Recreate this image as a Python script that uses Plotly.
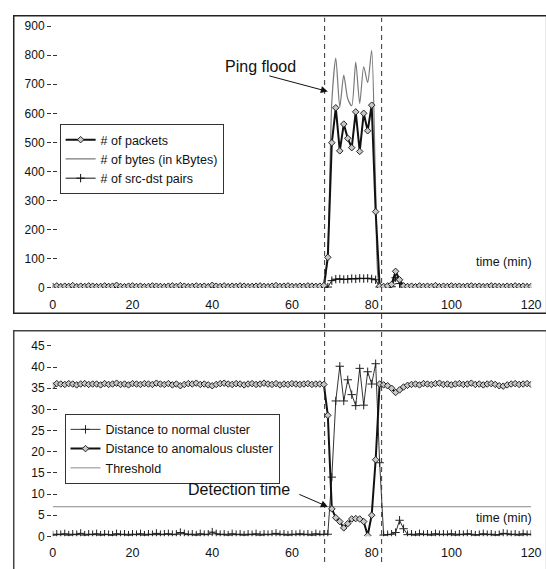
import plotly.graph_objects as go

# ---------------- data ----------------
time_min = list(range(0, 121))

packets = [5,7,4,6,5,8,4,6,5,7,
           6,4,5,7,5,6,9,5,4,6,
           7,5,6,4,5,7,6,5,4,6,
           7,5,8,6,4,5,7,5,6,4,
           9,6,5,7,4,6,5,7,6,4,
           5,6,7,5,4,6,8,5,6,7,
           5,4,6,5,7,6,5,6,8,
           105,499,619,471,563,514,482,605,469,600,540,
           628,262,6,5,7,12,57,28,7,5,
           6,4,7,5,6,5,8,4,6,5,
           7,5,6,4,6,7,5,6,4,5,
           7,6,5,4,6,5,7,5,6,4,5]

kbytes = [3,4,2,3,5,3,2,4,3,3,
          4,2,3,4,3,5,6,3,2,3,
          4,3,3,2,3,4,3,3,2,4,
          5,3,5,4,2,3,4,3,3,2,
          6,4,3,4,2,3,3,4,3,2,
          3,4,4,3,2,3,5,3,4,4,
          3,2,4,3,4,3,3,4,5,
          140,640,790,622,731,650,626,776,634,760,706,
          816,340,4,3,4,8,48,25,5,3,
          4,3,4,3,4,3,5,2,4,3,
          4,3,4,2,3,4,3,4,2,3,
          4,3,3,2,4,3,4,3,4,2,3]

pairs = [2,1,2,1,2,2,1,2,1,2,
         1,2,2,1,2,1,3,2,1,2,
         2,1,2,1,2,2,1,2,1,2,
         2,1,3,2,1,2,2,1,2,1,
         3,2,1,2,1,2,2,1,2,1,
         2,1,2,2,1,2,3,1,2,2,
         1,2,1,2,2,1,2,2,3,
         3,25,30,31,29,30,32,31,33,32,33,
         31,28,3,2,2,4,35,15,3,2,
         1,2,2,1,2,1,2,2,1,2,
         2,1,2,1,2,2,1,2,1,2,
         1,2,2,1,2,1,2,2,1,2,1]

dist_normal = [0.3,0.5,0.4,0.6,0.3,0.5,0.4,0.7,0.3,0.5,
               0.4,0.6,0.3,0.5,0.4,0.3,0.6,0.4,0.5,0.3,
               0.5,0.4,0.6,0.3,0.5,0.4,0.7,0.4,0.5,0.6,
               0.4,0.5,0.9,0.6,0.4,0.5,0.3,0.6,0.4,0.5,
               1.0,0.6,0.4,0.5,0.3,0.6,0.4,0.5,0.3,0.5,
               0.4,0.6,0.3,0.5,0.4,0.5,0.7,0.4,0.5,0.3,
               0.5,0.4,0.6,0.4,0.5,0.3,0.6,0.4,0.5,
               0.5,14.0,32.0,40.2,32.0,37.0,33.5,30.9,39.7,31.0,38.9,
               36.0,40.8,17.4,0.3,0.4,0.5,0.9,3.8,1.8,0.4,
               0.5,0.3,0.6,0.4,0.5,0.3,0.6,0.4,0.5,0.4,
               0.6,0.3,0.5,0.4,0.6,0.5,0.3,0.4,0.6,0.4,
               0.5,0.3,0.4,0.7,0.6,0.4,0.5,0.3,0.6,0.4,0.5]

dist_anomalous = [35.6,36.1,36.0,35.9,36.1,36.0,35.8,36.0,36.1,35.9,
                  36.0,36.0,35.8,36.1,35.9,36.0,36.2,35.9,36.0,35.8,
                  36.1,36.0,35.9,36.1,36.0,35.9,36.2,36.0,35.9,36.1,
                  35.8,36.0,35.6,35.9,36.1,36.0,36.2,35.9,36.0,35.8,
                  35.6,35.9,36.1,36.2,36.0,35.9,36.1,36.0,35.8,36.0,
                  36.1,35.9,36.0,36.2,36.0,35.9,36.1,35.8,36.0,35.9,
                  36.1,36.0,35.9,36.0,36.1,35.9,36.0,36.0,35.9,
                  28.6,6.5,4.4,3.5,2.0,3.0,4.1,4.2,4.1,3.5,0.2,
                  5.0,18.1,36.0,35.8,35.6,35.0,34.0,34.6,35.3,35.7,
                  35.9,36.0,35.8,36.1,36.0,35.9,36.1,36.2,35.9,36.0,
                  35.8,36.0,36.1,35.9,36.0,36.2,35.9,36.0,35.8,36.0,
                  36.1,35.9,35.6,35.5,35.8,36.0,36.1,35.9,36.0,36.1,35.9]

threshold = 7
attack_bounds = [68.2, 82.5]

x_ticks = [0, 20, 40, 60, 80, 100, 120]
top_ticks = [0, 100, 200, 300, 400, 500, 600, 700, 800, 900]
bottom_ticks = [0, 5, 10, 15, 20, 25, 30, 35, 40, 45]

for s in (packets, kbytes, pairs, dist_normal, dist_anomalous):
    assert len(s) == len(time_min), len(s)

# ---------------- figure ----------------
W, H = 546, 569
FONT = "Liberation Sans, Arial, sans-serif"
TICK = 12
LEG = 12.5

fig = go.Figure()

fig.add_trace(go.Scatter(
    x=time_min, y=packets, name="# of packets", mode="lines+markers",
    line=dict(color="#111111", width=2),
    marker=dict(symbol="diamond", size=5, color="#c8c8c8",
                line=dict(color="#222222", width=1)),
    xaxis="x", yaxis="y", legend="legend", cliponaxis=False, zorder=3))
fig.add_trace(go.Scatter(
    x=time_min, y=kbytes, name="# of bytes (in kBytes)", mode="lines",
    line=dict(color="#7a7a7a", width=1.2, shape="spline", smoothing=0.7),
    xaxis="x", yaxis="y", legend="legend", cliponaxis=False, zorder=1))
fig.add_trace(go.Scatter(
    x=time_min, y=pairs, name="# of src-dst pairs", mode="lines+markers",
    line=dict(color="#111111", width=1),
    marker=dict(symbol="cross-thin", size=6, line=dict(color="#111111", width=1)),
    xaxis="x", yaxis="y", legend="legend", cliponaxis=False, zorder=2))

fig.add_trace(go.Scatter(
    x=time_min, y=dist_normal, name="Distance to normal cluster", mode="lines+markers",
    line=dict(color="#333333", width=1),
    marker=dict(symbol="cross-thin", size=6, line=dict(color="#222222", width=1)),
    xaxis="x2", yaxis="y2", legend="legend2", cliponaxis=False, zorder=2))
fig.add_trace(go.Scatter(
    x=time_min, y=dist_anomalous, name="Distance to anomalous cluster", mode="lines+markers",
    line=dict(color="#111111", width=2),
    marker=dict(symbol="diamond", size=5, color="#c8c8c8",
                line=dict(color="#222222", width=1)),
    xaxis="x2", yaxis="y2", legend="legend2", cliponaxis=False, zorder=3))
fig.add_trace(go.Scatter(
    x=[time_min[0], time_min[-1]], y=[threshold, threshold], name="Threshold",
    mode="lines", line=dict(color="#8a8a8a", width=1),
    xaxis="x2", yaxis="y2", legend="legend2", zorder=1))

xdom = [51 / W, 541 / W]
top_dom = [1 - 288 / H, 1 - 19.5 / H]
bot_dom = [1 - 542.7 / H, 1 - 347.5 / H]

xcommon = dict(domain=xdom, range=[0, 120], tickvals=x_ticks, showgrid=False,
               zeroline=False, showline=True, linecolor="#9a9a9a", linewidth=1,
               ticks="outside", ticklen=5, tickcolor="rgba(0,0,0,0)",
               ticklabeloverflow="allow",
               tickfont=dict(family=FONT, size=12.5, color="#111"))
ycommon = dict(showgrid=False, zeroline=False, showline=True, linecolor="#333",
               linewidth=1.5, ticks="outside", ticklen=4, tickcolor="#333",
               tickwidth=1, tickfont=dict(family=FONT, size=TICK, color="#111"))

fig.update_layout(
    width=W, height=H, margin=dict(l=0, r=0, t=0, b=0),
    paper_bgcolor="white", plot_bgcolor="white",
    font=dict(family=FONT, size=11, color="#111"),
    xaxis=dict(anchor="y", **xcommon),
    yaxis=dict(anchor="x", domain=top_dom, range=[0, 900], tickvals=top_ticks, **ycommon),
    xaxis2=dict(anchor="y2", **xcommon),
    yaxis2=dict(anchor="x2", domain=bot_dom, range=[0, 45], tickvals=bottom_ticks, **ycommon),
    yaxis3=dict(overlaying="y", anchor="x", range=[0, 900], tickvals=top_ticks,
                showticklabels=False, ticks="inside", ticklen=4, tickcolor="#333",
                showline=False, showgrid=False, zeroline=False),
    yaxis4=dict(overlaying="y2", anchor="x2", range=[0, 45], tickvals=bottom_ticks,
                showticklabels=False, ticks="inside", ticklen=4, tickcolor="#333",
                showline=False, showgrid=False, zeroline=False),
    showlegend=True,
    legend=dict(x=58 / W, y=1 - 120 / H, xanchor="left", yanchor="top",
                bordercolor="#333", borderwidth=1, bgcolor="white",
                font=dict(family=FONT, size=LEG, color="#111"),
                itemwidth=30, traceorder="normal"),
    legend2=dict(x=63 / W, y=1 - 417 / H, xanchor="left", yanchor="top",
                 bordercolor="#333", borderwidth=1, bgcolor="white",
                 font=dict(family=FONT, size=LEG, color="#111"),
                 itemwidth=30, traceorder="normal"),
)

# dummy traces to attach the overlay axes (crossing tick marks)
fig.add_trace(go.Scatter(x=[], y=[], xaxis="x", yaxis="y3", showlegend=False))
fig.add_trace(go.Scatter(x=[], y=[], xaxis="x2", yaxis="y4", showlegend=False))

# frames around each panel
fig.add_shape(type="rect", xref="paper", yref="paper",
              x0=11 / W, x1=1.02, y0=1 - 314 / H, y1=1 - 9 / H,
              line=dict(color="#222", width=1.5), layer="below")
fig.add_shape(type="rect", xref="paper", yref="paper",
              x0=11 / W, x1=1.02, y0=-0.02, y1=1 - 332 / H,
              line=dict(color="#444", width=1.5), layer="below")

# attack start / end dashed lines spanning both panels
for b in attack_bounds:
    fig.add_shape(type="line", xref="x", yref="paper", x0=b, x1=b,
                  y0=0, y1=1 - 11 / H, line=dict(color="#333", width=1, dash="5px,4px"))

# texts
fig.add_annotation(text="Ping flood", xref="paper", yref="paper",
                   x=263.5 / W, y=1 - 61 / H, xanchor="center", yanchor="middle",
                   showarrow=False, font=dict(family=FONT, size=16, color="#111"))
fig.add_annotation(text="", xref="x", yref="y", x=69.0, y=675, ax=-60, ay=-16,
                   showarrow=True, arrowhead=2, arrowsize=1.4, arrowwidth=1,
                   arrowcolor="#111")
fig.add_annotation(text="Detection time", xref="paper", yref="paper",
                   x=242 / W, y=1 - 495 / H, xanchor="center", yanchor="middle",
                   showarrow=False, font=dict(family=FONT, size=16, color="#111"))
fig.add_annotation(text="", xref="x2", yref="y2", x=69.0, y=threshold, ax=-30, ay=-13,
                   showarrow=True, arrowhead=2, arrowsize=1.4, arrowwidth=1,
                   arrowcolor="#111")
fig.add_annotation(text="time (min)", xref="x", yref="y", x=113.2, y=90,
                   xanchor="center", yanchor="middle",
                   showarrow=False, font=dict(family=FONT, size=12.5, color="#111"))
fig.add_annotation(text="time (min)", xref="x2", yref="y2", x=113.2, y=4.3,
                   xanchor="center", yanchor="middle",
                   showarrow=False, font=dict(family=FONT, size=12.5, color="#111"))

fig.write_html("out.html", config={"displayModeBar": False},
               post_script="document.body.style.margin='0';")
